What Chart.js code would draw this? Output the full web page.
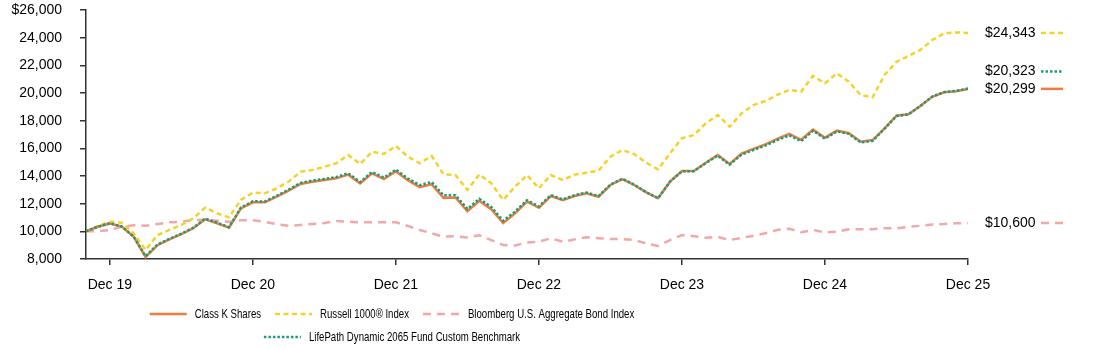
<!DOCTYPE html>
<html lang="en">

<head>
    <meta charset="UTF-8">
    <title>Growth of $10,000</title>
    <script src="https://cdn.jsdelivr.net/npm/chart.js"></script>
    <style>
        body { margin: 0; background: #fff; }
        .wrap { width: 1094px; height: 349px; position: relative; }
    </style>
</head>

<body>
    <div class="wrap"><canvas id="myChart"></canvas></div>
    <script>
        // monthly values, Oct 2019 .. Dec 2025
        const classK = [10000, 10330, 10560, 10340, 9600, 8150, 9000, 9420, 9790, 10220, 10870, 10580, 10260,
            11660, 12100, 12100, 12500, 12940, 13420, 13590, 13710, 13830, 14100, 13470, 14190, 13780, 14350,
            13700, 13200, 13400, 12420, 12450, 11450, 12200, 11600, 10600, 11300, 12150, 11700,
            12550, 12250, 12550, 12750, 12500, 13350, 13780, 13350, 12820, 12390, 13590, 14360,
            14360, 14960, 15520, 14870, 15620, 15960, 16280, 16680, 17040, 16620, 17350, 16770,
            17280, 17090, 16480, 16600, 17450, 18360, 18460, 19060, 19730, 20050, 20120, 20299];
        const russell = [10000, 10390, 10700, 10620, 9860, 8650, 9730, 10100, 10460, 10940, 11710, 11300, 11010,
            12270, 12800, 12750, 13110, 13590, 14310, 14430, 14670, 14920, 15520, 14870, 15760, 15590, 16170,
            15400, 14920, 15450, 14120, 14070, 12990, 14120, 13470, 12270, 13230, 14070, 13110,
            14070, 13710, 14100, 14240, 14380, 15400, 15880, 15590, 14960, 14480, 15640, 16730,
            16960, 17810, 18410, 17560, 18530, 19130, 19420, 19860, 20220, 20100, 21230, 20700,
            21420, 20820, 19850, 19700, 21300, 22260, 22670, 23110, 23830, 24310, 24380, 24343];
        const bloomberg = [10000, 10000, 10100, 10330, 10440, 10400, 10530, 10650, 10700, 10820, 10830, 10770, 10690,
            10800, 10800, 10690, 10510, 10400, 10460, 10530, 10600, 10750, 10700, 10650, 10650, 10650, 10650,
            10390, 10100, 9860, 9610, 9650, 9550, 9720, 9370, 9010, 8970, 9200, 9250,
            9500, 9250, 9420, 9570, 9500, 9440, 9440, 9370, 9130, 8940, 9370, 9730,
            9650, 9530, 9600, 9370, 9530, 9680, 9860, 10100, 10190, 9930, 10100, 9930,
            9980, 10150, 10150, 10150, 10220, 10220, 10330, 10400, 10500, 10530, 10580, 10600];
        const benchmark = [10000, 10340, 10590, 10350, 9620, 8200, 9050, 9460, 9830, 10260, 10920, 10630, 10300,
            11720, 12170, 12160, 12570, 13010, 13500, 13670, 13790, 13920, 14200, 13560, 14290, 13880, 14460,
            13820, 13340, 13560, 12600, 12610, 11620, 12350, 11760, 10760, 11420, 12250, 11800,
            12620, 12310, 12610, 12800, 12540, 13380, 13800, 13370, 12830, 12400, 13590, 14350,
            14350, 14930, 15480, 14820, 15550, 15880, 16200, 16590, 16940, 16520, 17270, 16700,
            17230, 17050, 16420, 16550, 17420, 18340, 18450, 19060, 19740, 20070, 20150, 20323];

        const xTickLabels = ['Dec 19', 'Dec 20', 'Dec 21', 'Dec 22', 'Dec 23', 'Dec 24', 'Dec 25'];
        const firstDec = 2; // Dec 19 is the 3rd month
        const endLabels = ['$20,299', '$24,343', '$10,600', '$20,323'];
        const endShift = [0, 0, 0, -17]; // keep the two close labels apart

        const FONT = "'Liberation Sans', Arial, sans-serif";
        const SQUEEZE = 0.74; // legend text is a condensed face, squeeze regular one

        // end-of-line value labels on the right
        const endLabelPlugin = {
            id: 'endLabels',
            afterDatasetsDraw(chart) {
                const ctx = chart.ctx;
                const y = chart.scales.y;
                const right = chart.chartArea.right;
                ctx.save();
                chart.data.datasets.forEach(function (ds, i) {
                    const py = y.getPixelForValue(ds.data[ds.data.length - 1].y) + endShift[i];
                    ctx.font = '14px ' + FONT;
                    ctx.fillStyle = '#000';
                    ctx.textAlign = 'left';
                    ctx.textBaseline = 'middle';
                    ctx.fillText(endLabels[i], right + 17, py);
                    ctx.strokeStyle = ds.borderColor;
                    ctx.lineWidth = ds.borderWidth;
                    ctx.setLineDash(ds.borderDash || []);
                    ctx.beginPath();
                    ctx.moveTo(right + 73, py);
                    ctx.lineTo(right + 95, py);
                    ctx.stroke();
                });
                ctx.restore();
            }
        };

        // two row legend under the chart
        const legendPlugin = {
            id: 'bottomLegend',
            afterDraw(chart) {
                const ctx = chart.ctx;
                const ds = chart.data.datasets;
                const rows = [[0, 1, 2], [3]];
                const rowY = [chart.height - 35, chart.height - 12];
                const center = 392;
                ctx.save();
                ctx.font = '13px ' + FONT;
                ctx.textBaseline = 'middle';
                ctx.textAlign = 'left';
                function tw(s) { return ctx.measureText(s).width * SQUEEZE; }
                rows.forEach(function (row, r) {
                    let total = 0;
                    row.forEach(function (i, k) {
                        total += 37 + 8 + tw(ds[i].label) + (k > 0 ? 14 : 0);
                    });
                    let x = center - total / 2;
                    row.forEach(function (i, k) {
                        if (k > 0) x += 14;
                        ctx.strokeStyle = ds[i].borderColor;
                        ctx.lineWidth = ds[i].borderWidth;
                        ctx.setLineDash(ds[i].borderDash || []);
                        ctx.beginPath();
                        ctx.moveTo(x, rowY[r]);
                        ctx.lineTo(x + 37, rowY[r]);
                        ctx.stroke();
                        x += 45;
                        ctx.save();
                        ctx.translate(x, rowY[r]);
                        ctx.scale(SQUEEZE, 1);
                        ctx.fillStyle = '#000';
                        ctx.fillText(ds[i].label, 0, 0);
                        ctx.restore();
                        x += tw(ds[i].label);
                    });
                });
                ctx.restore();
            }
        };

        function toPoints(arr) {
            return arr.map(function (v, i) { return { x: i, y: v }; });
        }

        const ctx = document.getElementById('myChart');
        const mychart = new Chart(ctx, {
            type: 'line',
            data: {
                datasets: [{
                    label: 'Class K Shares',
                    data: toPoints(classK),
                    borderColor: '#EE7D3B',
                    borderWidth: 2.5,
                    order: 1
                }, {
                    label: 'Russell 1000® Index',
                    data: toPoints(russell),
                    borderColor: '#F5D12A',
                    borderWidth: 2.5,
                    borderDash: [5, 3.5],
                    order: 2
                }, {
                    label: 'Bloomberg U.S. Aggregate Bond Index',
                    data: toPoints(bloomberg),
                    borderColor: '#F0A8A8',
                    borderWidth: 2.5,
                    borderDash: [8, 6],
                    order: 3
                }, {
                    label: 'LifePath Dynamic 2065 Fund Custom Benchmark',
                    data: toPoints(benchmark),
                    borderColor: '#1A9C7B',
                    borderWidth: 2.5,
                    borderDash: [2.5, 2],
                    order: 0
                }]
            },
            options: {
                responsive: true,
                maintainAspectRatio: false,
                animation: false,
                elements: {
                    point: { radius: 0 },
                    line: { tension: 0 }
                },
                layout: {
                    padding: { top: 10, right: 126, bottom: 50, left: 0 }
                },
                plugins: {
                    legend: { display: false },
                    tooltip: { enabled: false }
                },
                scales: {
                    x: {
                        type: 'linear',
                        min: 0,
                        max: classK.length - 1,
                        afterBuildTicks: function (scale) {
                            scale.ticks = xTickLabels.map(function (l, k) { return { value: firstDec + 12 * k }; });
                        },
                        afterFit: function (scale) {
                            scale.height = 40;
                            scale.paddingLeft = 0;
                            scale.paddingRight = 0;
                        },
                        ticks: {
                            autoSkip: false,
                            maxRotation: 0,
                            padding: 12,
                            color: '#000',
                            font: { family: FONT, size: 14 },
                            callback: function (value) {
                                return xTickLabels[Math.round((value - firstDec) / 12)];
                            }
                        },
                        grid: { drawOnChartArea: false, tickLength: 6, color: '#333', lineWidth: 1.5 },
                        border: { color: '#333', width: 1.5 }
                    },
                    y: {
                        min: 8000,
                        max: 26000,
                        afterFit: function (scale) {
                            scale.width = 86;
                            scale.paddingTop = 0;
                            scale.paddingBottom = 0;
                        },
                        ticks: {
                            stepSize: 2000,
                            padding: 18,
                            color: '#000',
                            font: { family: FONT, size: 14 },
                            callback: function (value) {
                                const s = value.toLocaleString('en-US');
                                return value === 26000 ? '$' + s : s;
                            }
                        },
                        grid: { drawOnChartArea: false, tickLength: 6, color: '#333', lineWidth: 1.5 },
                        border: { color: '#333', width: 1.5 }
                    }
                }
            },
            plugins: [endLabelPlugin, legendPlugin]
        });
    </script>
</body>

</html>
